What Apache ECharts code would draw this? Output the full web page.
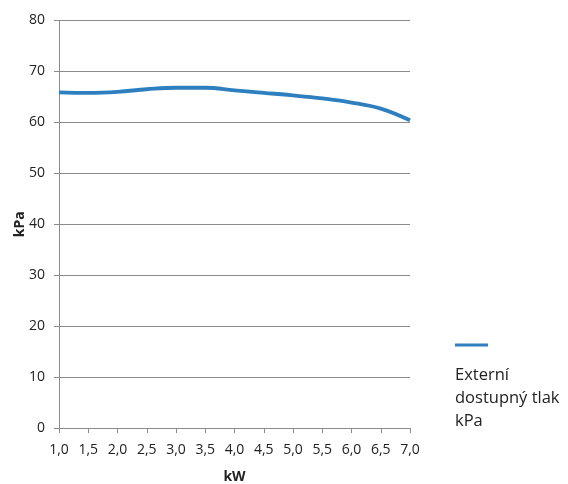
<!DOCTYPE html>
<html>
<head>
<meta charset="utf-8">
<script src="https://cdn.jsdelivr.net/npm/echarts@6/dist/echarts.min.js"></script>
<style>html,body{margin:0;padding:0;background:#fff}#c{width:568px;height:484px}</style>
</head>
<body>
<div id="c"></div>
<script>
const power = [1.0, 1.5, 2.0, 2.5, 3.0, 3.5, 4.0, 4.5, 5.0, 5.5, 6.0, 6.5, 7.0];
const pressure = [65.9, 65.8, 66.0, 66.5, 66.8, 66.8, 66.3, 65.8, 65.3, 64.7, 63.9, 62.7, 60.4];
const seriesName = 'Externí dostupný tlak kPa';
const legendLines = ['Externí', 'dostupný tlak', 'kPa'];
const xTitle = 'kW';
const yTitle = 'kPa';

const chart = echarts.init(document.getElementById('c'), null, {renderer: 'canvas'});
const font = '"Open Sans", "DejaVu Sans", sans-serif';
chart.setOption({
  animation: false,
  textStyle: {fontFamily: font},
  grid: {left: 59, right: 158, top: 20.5, bottom: 56, containLabel: false, outerBoundsMode: 'none'},
  legend: {
    show: true,
    left: 455, top: 257,
    padding: 0,
    orient: 'vertical',
    icon: 'rect',
    itemWidth: 33, itemHeight: 3,
    itemGap: 0,
    data: [{name: seriesName}],
    formatter: () => '{s|}\n' + legendLines.map(l => '{t|' + l + '}').join('\n'),
    textStyle: {
      fontFamily: font, fontSize: 16.5, color: '#222',
      padding: [0, 0, 0, -38],
      rich: {
        s: {height: 107, lineHeight: 107, fontSize: 1},
        t: {fontFamily: font, fontSize: 16.5, color: '#222', lineHeight: 23, height: 23}
      }
    }
  },
  xAxis: {
    type: 'value', min: 1, max: 7, interval: 0.5,
    name: xTitle, nameLocation: 'middle', nameGap: 42,
    nameMoveOverlap: false,
    nameTextStyle: {fontWeight: 'bold', fontSize: 14, color: '#222', fontFamily: font},
    axisLine: {show: true, lineStyle: {color: '#8c8c8c', width: 1}},
    axisTick: {show: true, length: 5, lineStyle: {color: '#8c8c8c'}},
    splitLine: {show: false},
    axisLabel: {fontSize: 14, color: '#222', margin: 15,
      formatter: v => v.toFixed(1).replace('.', ',')}
  },
  yAxis: {
    type: 'value', min: 0, max: 80, interval: 10,
    name: yTitle, nameLocation: 'middle', nameGap: 32, nameRotate: 90,
    nameMoveOverlap: false,
    nameTextStyle: {fontWeight: 'bold', fontSize: 14, color: '#222', fontFamily: font},
    axisLine: {show: true, lineStyle: {color: '#8c8c8c', width: 1}},
    axisTick: {show: true, length: 5, lineStyle: {color: '#8c8c8c'}},
    splitLine: {show: true, lineStyle: {color: '#8c8c8c', width: 1}},
    axisLabel: {fontSize: 14, color: '#222', margin: 14}
  },
  series: [{
    name: seriesName,
    type: 'line',
    data: power.map((x, i) => [x, pressure[i]]),
    smooth: 0.4,
    showSymbol: false,
    symbol: 'none',
    lineStyle: {color: '#2e7fbf', width: 3.8},
    itemStyle: {color: '#2e7fbf'}
  }]
});
</script>
</body>
</html>
